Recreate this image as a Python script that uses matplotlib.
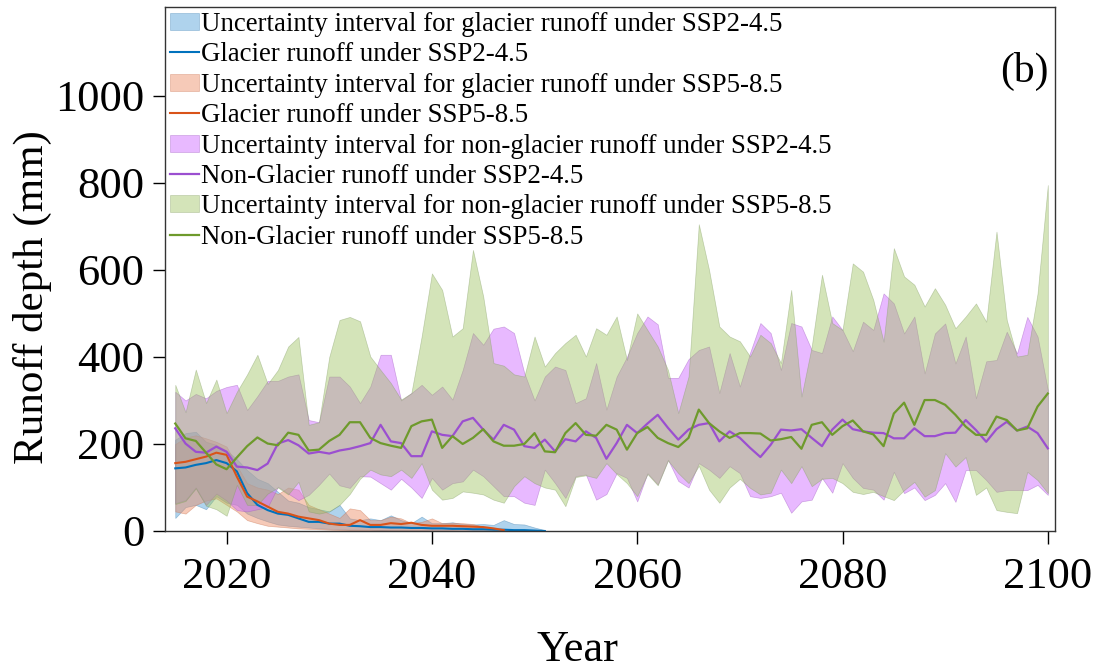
import matplotlib
matplotlib.use('Agg')
import matplotlib.pyplot as plt
import numpy as np

plt.rcParams['font.family'] = ['Liberation Serif', 'DejaVu Serif']

years = np.arange(2015, 2101)

# Non-glacier runoff, SSP2-4.5 (mean, lower, upper)
ng45_mean = [236, 201, 182, 180, 194, 182, 148, 146, 140, 155,
             201, 209, 197, 178, 182, 178, 185, 189, 195, 202,
             244, 206, 202, 172, 172, 229, 221, 218, 252, 260,
             233, 210, 244, 233, 195, 191, 210, 183, 211, 206,
             229, 214, 166, 202, 244, 225, 247, 267, 237, 210,
             233, 244, 248, 206, 229, 214, 191, 170, 198, 233,
             231, 234, 214, 195, 233, 256, 234, 229, 226, 225,
             213, 213, 236, 218, 218, 225, 226, 255, 232, 205,
             234, 251, 231, 240, 225, 190]
ng45_lo = [64, 71, 100, 60, 86, 70, 48, 45, 50, 55, 102, 86, 71, 83, 106, 132, 105,
           99, 126, 125, 110, 95, 120, 100, 76, 122, 95, 110, 114, 141, 126, 103, 80, 80, 65,
           60, 141, 110, 76, 126, 130, 72, 85, 133, 122, 68, 133, 107, 164, 115, 100, 156, 141,
           122, 149, 133, 80, 76, 80, 88, 42, 68, 72, 122, 88, 156, 122, 99, 95, 72,
           136, 87, 100, 71, 83, 110, 67, 140, 140, 117, 90, 94, 94, 94, 106, 83]
ng45_hi = [320, 300, 315, 305, 322, 331, 336, 278, 310, 345,
           345, 355, 360, 255, 250, 355, 355, 332, 294, 332,
           405, 405, 300, 317, 336, 313, 332, 302, 370, 455,
           428, 465, 470, 455, 363, 300, 355, 378, 370, 294,
           305, 386, 279, 355, 400, 455, 493, 475, 352, 352,
           395, 416, 424, 317, 409, 332, 410, 478, 455, 370,
           478, 470, 416, 409, 493, 462, 413, 481, 462, 546,
           523, 454, 493, 362, 454, 477, 385, 447, 305, 390,
           393, 458, 408, 492, 447, 324]

# Non-glacier runoff, SSP5-8.5 (mean, lower, upper)
ng85_mean = [247, 213, 207, 180, 153, 142, 169, 195, 215, 201,
             197, 226, 221, 185, 187, 207, 221, 250, 250, 214,
             202, 196, 191, 241, 252, 256, 191, 218, 200, 214,
             234, 206, 196, 196, 200, 225, 183, 181, 225, 248,
             221, 219, 244, 233, 187, 225, 239, 214, 202, 193,
             214, 279, 248, 229, 214, 225, 225, 224, 208, 211,
             216, 189, 244, 250, 221, 241, 254, 229, 222, 195,
             270, 295, 244, 301, 301, 290, 267, 240, 221, 221,
             263, 255, 231, 236, 286, 316]
ng85_lo = [62, 69, 98, 58, 50, 35, 106, 60, 60, 86, 100, 84, 113, 45, 40, 45, 60,
           85, 120, 141, 130, 126, 141, 122, 156, 95, 72, 76, 91, 88, 84, 72, 65, 103, 126,
           110, 100, 95, 57, 124, 128, 122, 156, 131, 110, 80, 131, 105, 162, 133, 110, 150, 95,
           65, 100, 120, 99, 84, 88, 141, 110, 149, 103, 120, 122, 110, 90, 85, 90, 80,
           71, 94, 113, 79, 94, 179, 148, 170, 83, 100, 48, 44, 41, 136, 117, 87]
ng85_hi = [336, 273, 371, 294, 348, 271, 320, 360, 405, 338,
           370, 424, 446, 244, 250, 400, 485, 492, 482, 401,
           370, 340, 302, 317, 447, 592, 554, 447, 466, 646,
           539, 386, 380, 360, 355, 447, 378, 409, 432, 451,
           401, 466, 451, 493, 393, 500, 462, 424, 370, 271,
           355, 705, 600, 470, 447, 436, 401, 451, 432, 386,
           554, 309, 424, 589, 478, 462, 615, 596, 531, 435,
           650, 585, 566, 516, 558, 520, 466, 493, 523, 481,
           688, 485, 401, 405, 546, 795]

# Glacier runoff, SSP2-4.5 (2015-2051)
g45_years = np.arange(2015, 2052)
g45_mean = [144, 146, 152, 156, 163, 156, 137, 87, 60, 48,
            40, 37, 29, 21, 21, 17, 17, 12, 11, 9,
            9, 8, 8, 7, 7, 6, 6, 5, 5, 4,
            4, 3, 3, 2, 2, 1, 0]
g45_lo = [30, 55, 60, 50, 80, 65, 60, 40, 30, 22,
          15, 12, 10, 8, 6, 5, 4, 3, 3, 3,
          2, 2, 2, 2, 2, 1, 1, 1, 1, 1,
          1, 0, 0, 0, 0, 0, 0]
g45_hi = [210, 225, 228, 205, 198, 185, 165, 140, 120, 110,
          90, 70, 65, 55, 50, 45, 60, 29, 25, 29,
          25, 36, 25, 18, 33, 18, 18, 20, 16, 15,
          16, 14, 25, 16, 15, 8, 2]

# Glacier runoff, SSP5-8.5 (2015-2047)
g85_years = np.arange(2015, 2048)
g85_mean = [156, 159, 165, 171, 180, 175, 125, 79, 68, 56,
            44, 40, 33, 29, 25, 17, 14, 14, 25, 14,
            14, 18, 16, 19, 14, 12, 12, 12, 11, 10,
            9, 6, 2]
g85_lo = [45, 40, 60, 70, 75, 60, 45, 25, 18, 12,
          10, 8, 6, 5, 4, 3, 2, 2, 2, 2,
          2, 1, 1, 1, 1, 1, 1, 1, 0, 0,
          0, 0, 0]
g85_hi = [200, 215, 220, 213, 205, 194, 150, 110, 100, 95,
          85, 100, 95, 60, 50, 40, 30, 52, 48, 25,
          25, 33, 29, 18, 21, 29, 18, 19, 18, 16,
          10, 4, 0]

labels = ['Uncertainty interval for glacier runoff under SSP2-4.5',
          'Glacier runoff under SSP2-4.5',
          'Uncertainty interval for glacier runoff under SSP5-8.5',
          'Glacier runoff under SSP5-8.5',
          'Uncertainty interval for non-glacier runoff under SSP2-4.5',
          'Non-Glacier runoff under SSP2-4.5',
          'Uncertainty interval for non-glacier runoff under SSP5-8.5',
          'Non-Glacier runoff under SSP5-8.5']

fig = plt.figure(figsize=(11.01, 6.69), dpi=100)
ax = fig.add_axes([165 / 1101, 1 - 531 / 669, 890 / 1101, 524.3 / 669])

h = []
h.append(ax.fill_between(g45_years, g45_lo, g45_hi, facecolor='#4f9fd8', alpha=0.45,
                         edgecolor='#3d7fb0', linewidth=0.5, label=labels[0]))
h.append(ax.plot(g45_years, g45_mean, color='#0072BD', lw=1.5, label=labels[1])[0])
h.append(ax.fill_between(g85_years, g85_lo, g85_hi, facecolor='#ec8a62', alpha=0.45,
                         edgecolor='#c9704c', linewidth=0.5, label=labels[2]))
h.append(ax.plot(g85_years, g85_mean, color='#D95319', lw=1.5, label=labels[3])[0])
h.append(ax.fill_between(years, ng45_lo, ng45_hi, facecolor='#cf6cff', alpha=0.47,
                         edgecolor='#a05ac0', linewidth=0.5, label=labels[4]))
h.append(ax.plot(years, ng45_mean, color='#9b4fd0', lw=1.6, label=labels[5])[0])
h.append(ax.fill_between(years, ng85_lo, ng85_hi, facecolor='#9cc25e', alpha=0.43,
                         edgecolor='#7f9a60', linewidth=0.5, label=labels[6]))
h.append(ax.plot(years, ng85_mean, color='#6e9a2c', lw=1.6, label=labels[7])[0])

ax.set_xlim(2014.0, 2100.7)
ax.set_ylim(0, 1205)
ax.set_xticks([2020, 2040, 2060, 2080, 2100])
ax.set_yticks([0, 200, 400, 600, 800, 1000])
ax.tick_params(axis='both', labelsize=32, direction='out', length=9, width=1,
               top=False, right=False)
ax.tick_params(axis='x', pad=10)
ax.tick_params(axis='y', pad=6)
for s in ax.spines.values():
    s.set_linewidth(1.0)
    s.set_color('#333333')

ax.set_xlabel('Year', fontsize=32)
ax.xaxis.set_label_coords(0.463, -0.188)
ax.set_ylabel('Runoff depth (mm)', fontsize=31)
ax.yaxis.set_label_coords(-0.127, 0.446)

ax.text(0.966, 0.877, '(b)', transform=ax.transAxes, fontsize=30,
        ha='center', va='center')

ax.legend(handles=h, loc='upper left', bbox_to_anchor=(0.0, 1.0), frameon=False,
          fontsize=19.4, handlelength=1.05, handleheight=0.6, handletextpad=0.08,
          labelspacing=0.2, borderaxespad=0.0, borderpad=0.2)

fig.savefig('out.png', dpi=100)
